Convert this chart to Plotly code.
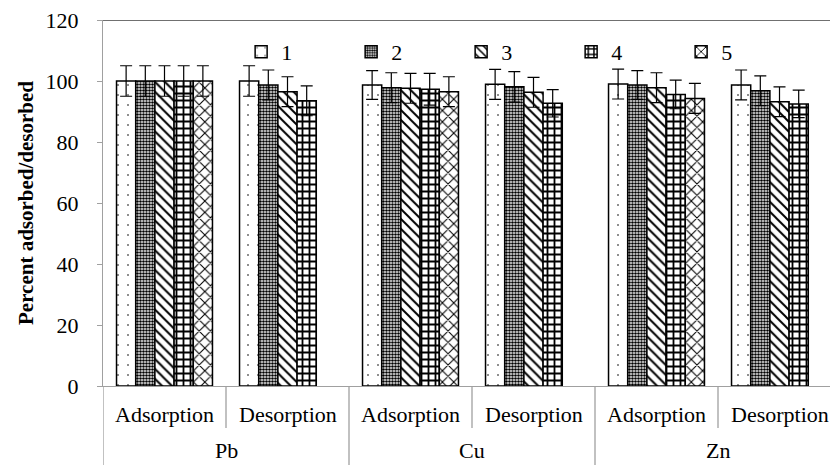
import plotly.graph_objects as go

# Groups along the category axis: element / process
elements = ["Pb", "Cu", "Zn"]
processes = ["Adsorption", "Desorption"]

# Percent adsorbed/desorbed for cycles 1-5 (cycle 5 only for adsorption)
cycle_names = ["1", "2", "3", "4", "5"]
cycle1 = [100.0, 100.0, 98.7, 98.9, 99.0, 98.7]
cycle2 = [100.0, 98.7, 97.8, 98.1, 98.7, 96.8]
cycle3 = [100.0, 96.5, 97.6, 96.3, 97.8, 93.2]
cycle4 = [100.0, 93.5, 97.3, 92.7, 95.6, 92.5]
cycle5 = [100.0, None, 96.5, None, 94.3, None]

# Error bar half-lengths
err1 = [5.0, 5.0, 4.7, 4.9, 4.9, 4.9]
err2 = [5.0, 4.9, 4.9, 5.0, 4.7, 4.9]
err3 = [5.0, 4.9, 4.9, 4.9, 4.9, 4.9]
err4 = [5.0, 4.9, 5.2, 4.5, 4.7, 4.5]
err5 = [5.0, None, 4.9, None, 4.9, None]

y_ticks = [0, 20, 40, 60, 80, 100, 120]

values = [cycle1, cycle2, cycle3, cycle4, cycle5]
errors = [err1, err2, err3, err4, err5]

patterns = [
    dict(shape=".", size=10, solidity=0.02, fgcolor="#000000", bgcolor="#ffffff", fillmode="replace"),
    dict(shape=".", size=3, solidity=0.6, fgcolor="#000000", bgcolor="#ffffff", fillmode="replace"),
    dict(shape="\\", size=7, solidity=0.28, fgcolor="#000000", bgcolor="#ffffff", fillmode="replace"),
    dict(shape="+", size=7, solidity=0.45, fgcolor="#000000", bgcolor="#ffffff", fillmode="replace"),
    dict(shape="x", size=8, solidity=0.25, fgcolor="#000000", bgcolor="#ffffff", fillmode="replace"),
]

FONT = "Liberation Serif"
FS = 22
labels = [f"{e} {p}" for e in elements for p in processes]
xpos = list(range(len(labels)))

fig = go.Figure()
for name, vals, errs, pat in zip(cycle_names, values, errors, patterns):
    fig.add_trace(go.Bar(
        x=xpos, y=vals, name=name,
        marker=dict(color="#ffffff", line=dict(color="#000000", width=1.5), pattern=pat),
        error_y=dict(type="data", array=[e if e is not None else 0 for e in errs],
                     visible=True, color="#000000", thickness=1.2, width=6),
    ))

# Category labels: process row, then element row
annotations = []
for i, lab in enumerate(labels):
    annotations.append(dict(x=i, y=-0.079, xref="x", yref="paper", text=lab.split(" ")[1],
                            showarrow=False, yanchor="middle",
                            font=dict(family=FONT, size=FS, color="#000000")))
for k, el in enumerate(elements):
    annotations.append(dict(x=2 * k + 0.5, y=-0.176, xref="x", yref="paper", text=el,
                            showarrow=False, yanchor="middle",
                            font=dict(family=FONT, size=FS, color="#000000")))

AXIS_GRAY = "#a0a0a0"
shapes = []
# separators between processes (short) and between elements (long)
for k in range(len(elements)):
    shapes.append(dict(type="line", xref="x", yref="paper", x0=2 * k + 0.5, x1=2 * k + 0.5,
                       y0=0, y1=-0.115, line=dict(color=AXIS_GRAY, width=1.3)))
for b in [-0.5, 1.5, 3.5, 5.5]:
    shapes.append(dict(type="line", xref="x", yref="paper", x0=b, x1=b,
                       y0=0, y1=-0.22, line=dict(color=AXIS_GRAY, width=1.3)))
# top border line at 120
shapes.append(dict(type="line", xref="paper", yref="y", x0=0, x1=1, y0=120, y1=120,
                   line=dict(color="#404040", width=1.5)))

fig.update_layout(
    width=830, height=465,
    margin=dict(l=103, r=0, t=20, b=79, autoexpand=False),
    paper_bgcolor="#ffffff", plot_bgcolor="#ffffff",
    barmode="group", bargap=0.22, bargroupgap=0,
    font=dict(family=FONT, size=FS, color="#000000"),
    showlegend=True,
    legend=dict(orientation="h", x=0.19, y=0.913, xanchor="left", yanchor="middle",
                entrywidth=65, entrywidthmode="pixels", itemwidth=30,
                bgcolor="rgba(0,0,0,0)", font=dict(family=FONT, size=FS, color="#000000")),
    xaxis=dict(range=[-0.5, -0.5 + 727 / 123], showticklabels=False, showgrid=False,
               zeroline=False, showline=True, linecolor=AXIS_GRAY, linewidth=1.3,
               ticks="", fixedrange=True),
    yaxis=dict(range=[0, 120], tickvals=y_ticks, showgrid=False, zeroline=False,
               showline=True, linecolor=AXIS_GRAY, linewidth=1.3, automargin=False,
               ticks="outside", ticklen=5, tickcolor=AXIS_GRAY, tickwidth=1.3,
               ticklabelstandoff=14,
               tickfont=dict(family=FONT, size=FS, color="#000000"),
               title=dict(text="<b>Percent adsorbed/desorbed</b>", standoff=6,
                          font=dict(family=FONT, size=21, color="#000000"))),
    annotations=annotations,
    shapes=shapes,
)

fig.write_html("out.html")
